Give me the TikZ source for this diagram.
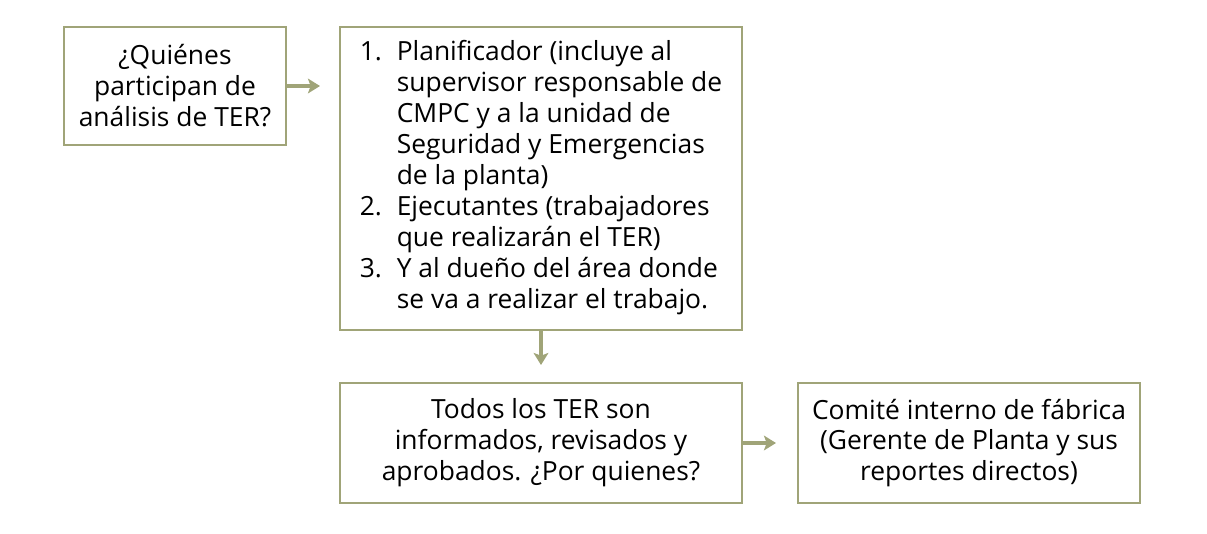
\documentclass[tikz,border=0pt]{standalone}
\usepackage{fontspec}
\setmainfont{Open Sans}
\usetikzlibrary{arrows.meta}
\definecolor{oliva}{RGB}{160,164,120}

\begin{document}
\begin{tikzpicture}[x=0.75pt,y=-0.75pt,
    caja/.style={draw=oliva, line width=1.5pt, inner sep=0pt, align=center,
      font=\fontsize{19.8}{23.2}\selectfont},
    flecha/.style={draw=oliva, line width=3pt,
      -{Stealth[length=9pt, width=11pt, inset=2pt]}}]

      \useasboundingbox (0,0) rectangle (1207,533);

	\node[caja, minimum width=166.5pt, minimum height=88.5pt] (preg) at (175,86)
	  {¿Quiénes\\participan de\\análisis de TER?};

	\node[caja, minimum width=301.5pt, minimum height=227.25pt] (lista) at (541,178.5)
	  {\begin{tabular}{@{}p{27.75pt}@{}l@{}}
	    1. & Planificador (incluye al\\
	       & supervisor responsable de\\
	       & CMPC y a la unidad de\\
	       & Seguridad y Emergencias\\
	       & de la planta)\\
	    2. & Ejecutantes (trabajadores\\
	       & que realizarán el TER)\\
	    3. & Y al dueño del área donde\\
	       & se va a realizar el trabajo.
	  \end{tabular}};

	\node[caja, minimum width=301.5pt, minimum height=90pt] (rev) at (541,443)
	  {Todos los TER son\\informados, revisados y\\aprobados. ¿Por quienes?};

	\node[caja, minimum width=256.5pt, minimum height=90pt] (comite) at (969,443)
	  {Comité interno de fábrica\\(Gerente de Planta y sus\\reportes directos)};

      \draw[flecha, shorten >=14.25pt] (preg.east) -- (preg.east -| lista.west);
      \draw[flecha, shorten >=12.75pt] (lista.south) -- (rev.north);
      \draw[flecha, shorten >=15.75pt] (rev.east) -- (comite.west);
    \end{tikzpicture}
\end{document}
